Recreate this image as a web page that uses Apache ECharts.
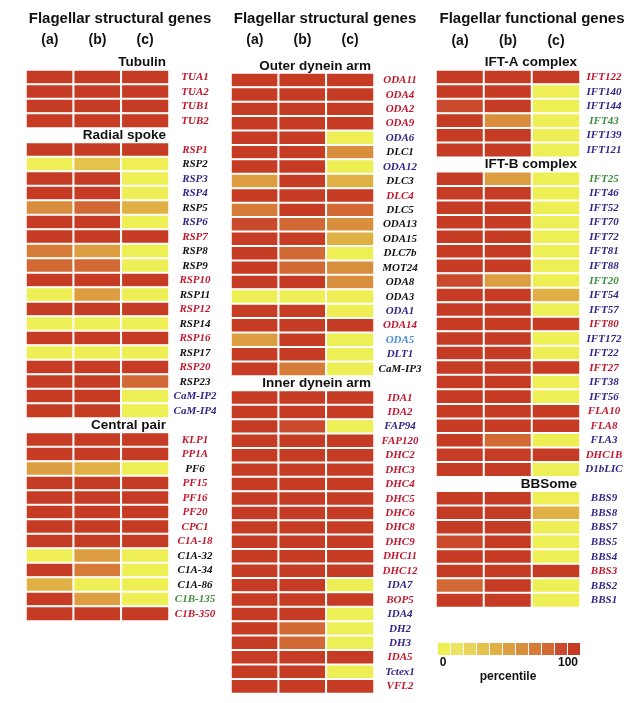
<!DOCTYPE html>
<html><head><meta charset="utf-8">
<script src="https://cdn.jsdelivr.net/npm/echarts@6/dist/echarts.min.js"></script>
<style>html,body{margin:0;padding:0;background:#fff}#c{width:643px;height:703px}</style>
</head><body><div id="c"></div>
<script>
// ---------- data ----------
const columns = ['(a)', '(b)', '(c)'];
const panelTitles = ['Flagellar structural genes', 'Flagellar structural genes', 'Flagellar functional genes'];
const pieceLevels = [0, 10, 20, 30, 40, 50, 60, 70, 80, 90, 100];
const pieceColors = ['#eeee55', '#ece460', '#e8d458', '#e4c24c', '#e0b044', '#dc9e40', '#d88e3c', '#d67c38', '#d26834', '#ca4a2e', '#c53b24'];

// Left panel
const tubulinGenes = ['TUA1', 'TUA2', 'TUB1', 'TUB2'];
const tubulinA = [100, 100, 100, 100];
const tubulinB = [100, 100, 100, 100];
const tubulinC = [100, 100, 100, 100];
const tubulinColors = ['r', 'r', 'r', 'r'];

const spokeGenes = ['RSP1', 'RSP2', 'RSP3', 'RSP4', 'RSP5', 'RSP6', 'RSP7', 'RSP8', 'RSP9', 'RSP10', 'RSP11', 'RSP12', 'RSP14', 'RSP16', 'RSP17', 'RSP20', 'RSP23', 'CaM-IP2', 'CaM-IP4'];
const spokeA = [100, 0, 100, 100, 60, 100, 100, 70, 80, 100, 0, 100, 0, 100, 0, 100, 100, 100, 100];
const spokeB = [100, 30, 100, 100, 80, 100, 100, 50, 80, 100, 50, 100, 0, 100, 0, 100, 100, 100, 100];
const spokeC = [100, 0, 0, 0, 40, 0, 100, 0, 0, 100, 0, 100, 0, 100, 0, 100, 80, 0, 0];
const spokeColors = ['r', 'k', 'p', 'p', 'k', 'p', 'r', 'k', 'k', 'r', 'k', 'r', 'k', 'r', 'k', 'r', 'k', 'p', 'p'];

const centralGenes = ['KLP1', 'PP1A', 'PF6', 'PF15', 'PF16', 'PF20', 'CPC1', 'C1A-18', 'C1A-32', 'C1A-34', 'C1A-86', 'C1B-135', 'C1B-350'];
const centralA = [100, 100, 50, 100, 100, 100, 100, 100, 0, 100, 40, 100, 100];
const centralB = [100, 100, 40, 100, 100, 100, 100, 100, 50, 70, 0, 50, 100];
const centralC = [100, 100, 0, 100, 100, 100, 100, 100, 0, 0, 0, 0, 100];
const centralColors = ['r', 'r', 'k', 'r', 'r', 'r', 'r', 'r', 'k', 'k', 'k', 'g', 'r'];

// Middle panel
const outerGenes = ['ODA11', 'ODA4', 'ODA2', 'ODA9', 'ODA6', 'DLC1', 'ODA12', 'DLC3', 'DLC4', 'DLC5', 'ODA13', 'ODA15', 'DLC7b', 'MOT24', 'ODA8', 'ODA3', 'ODA1', 'ODA14', 'ODA5', 'DLT1', 'CaM-IP3'];
const outerA = [100, 100, 100, 100, 100, 100, 100, 50, 100, 70, 90, 100, 100, 100, 100, 0, 100, 100, 50, 100, 100];
const outerB = [100, 100, 100, 100, 100, 100, 100, 100, 100, 100, 80, 100, 80, 80, 100, 0, 100, 100, 100, 100, 70];
const outerC = [100, 100, 100, 100, 0, 60, 0, 40, 100, 80, 60, 40, 0, 60, 60, 0, 0, 100, 0, 0, 0];
const outerColors = ['r', 'r', 'r', 'r', 'p', 'k', 'p', 'k', 'r', 'k', 'k', 'k', 'k', 'k', 'k', 'k', 'p', 'r', 'b', 'p', 'k'];

const innerGenes = ['IDA1', 'IDA2', 'FAP94', 'FAP120', 'DHC2', 'DHC3', 'DHC4', 'DHC5', 'DHC6', 'DHC8', 'DHC9', 'DHC11', 'DHC12', 'IDA7', 'BOP5', 'IDA4', 'DH2', 'DH3', 'IDA5', 'Tctex1', 'VFL2'];
const innerA = [100, 100, 100, 100, 100, 100, 100, 100, 100, 100, 100, 100, 100, 100, 100, 100, 100, 100, 100, 100, 100];
const innerB = [100, 100, 90, 100, 100, 100, 100, 100, 100, 100, 100, 100, 100, 100, 100, 100, 80, 80, 100, 100, 100];
const innerC = [100, 100, 0, 100, 100, 100, 100, 100, 100, 100, 100, 100, 100, 0, 100, 0, 0, 0, 100, 0, 100];
const innerColors = ['r', 'r', 'p', 'r', 'r', 'r', 'r', 'r', 'r', 'r', 'r', 'r', 'r', 'p', 'r', 'p', 'p', 'p', 'r', 'p', 'r'];

// Right panel
const iftAGenes = ['IFT122', 'IFT140', 'IFT144', 'IFT43', 'IFT139', 'IFT121'];
const iftAA = [100, 100, 90, 100, 100, 100];
const iftAB = [100, 100, 100, 60, 100, 100];
const iftAC = [100, 0, 0, 0, 0, 0];
const iftAColors = ['r', 'p', 'p', 'g', 'p', 'p'];

const iftBGenes = ['IFT25', 'IFT46', 'IFT52', 'IFT70', 'IFT72', 'IFT81', 'IFT88', 'IFT20', 'IFT54', 'IFT57', 'IFT80', 'IFT172', 'IFT22', 'IFT27', 'IFT38', 'IFT56', 'FLA10', 'FLA8', 'FLA3', 'DHC1B', 'D1bLIC'];
const iftBA = [100, 100, 100, 100, 100, 100, 100, 90, 100, 100, 100, 100, 100, 100, 100, 100, 100, 100, 100, 100, 100];
const iftBB = [50, 100, 100, 100, 100, 100, 100, 50, 100, 100, 100, 100, 100, 100, 100, 100, 100, 100, 80, 100, 100];
const iftBC = [0, 0, 0, 0, 0, 0, 0, 0, 40, 0, 100, 0, 0, 100, 0, 0, 100, 100, 0, 100, 0];
const iftBColors = ['g', 'p', 'p', 'p', 'p', 'p', 'p', 'g', 'p', 'p', 'r', 'p', 'p', 'r', 'p', 'p', 'r', 'r', 'p', 'r', 'p'];

const bbsGenes = ['BBS9', 'BBS8', 'BBS7', 'BBS5', 'BBS4', 'BBS3', 'BBS2', 'BBS1'];
const bbsA = [100, 100, 100, 90, 100, 100, 80, 100];
const bbsB = [100, 100, 100, 100, 100, 100, 100, 100];
const bbsC = [0, 40, 0, 0, 0, 100, 0, 0];
const bbsColors = ['p', 'p', 'p', 'p', 'p', 'r', 'p', 'p'];

// ---------- build ----------
const labelColor = { r: '#c2182e', k: '#111111', p: '#35258a', g: '#3f8f3f', b: '#4a8fd6' };

const panels = [
  { sections: [
      ['Tubulin', tubulinGenes, tubulinA, tubulinB, tubulinC, tubulinColors],
      ['Radial spoke', spokeGenes, spokeA, spokeB, spokeC, spokeColors],
      ['Central pair', centralGenes, centralA, centralB, centralC, centralColors]],
    grid: { left: 26, top: 55.5, width: 143, height: 565.5 }, xMargin: 8, lblMargin: 26, titleX: 120 },
  { sections: [
      ['Outer dynein arm', outerGenes, outerA, outerB, outerC, outerColors],
      ['Inner dynein arm', innerGenes, innerA, innerB, innerC, innerColors]],
    grid: { left: 231, top: 58.6, width: 143, height: 635 }, xMargin: 11, lblMargin: 26, titleX: 325 },
  { sections: [
      ['IFT-A complex', iftAGenes, iftAA, iftAB, iftAC, iftAColors],
      ['IFT-B complex', iftBGenes, iftBA, iftBB, iftBC, iftBColors],
      ['BBSome', bbsGenes, bbsA, bbsB, bbsC, bbsColors]],
    grid: { left: 436, top: 55.5, width: 144, height: 552 }, xMargin: 7, lblMargin: 24, titleX: 532 }
];

const rich = {};
Object.keys(labelColor).forEach(k => {
  rich[k] = { color: labelColor[k], fontFamily: 'Liberation Serif', fontStyle: 'italic', fontWeight: 'bold', fontSize: 11 };
});

const grids = [], xAxes = [], yAxes = [], series = [], graphics = [];
panels.forEach((pn, p) => {
  const cats = [];
  const colorOf = {};
  const data = [];
  pn.sections.forEach(([title, genes, A, B, C, cols]) => {
    cats.push('H:' + title);
    genes.forEach((g, i) => {
      cats.push(g);
      colorOf[g] = cols[i];
      data.push([0, g, A[i]], [1, g, B[i]], [2, g, C[i]]);
    });
  });
  grids.push(Object.assign({ containLabel: false }, pn.grid));
  xAxes.push({
    type: 'category', gridIndex: p, data: columns, position: 'top',
    axisLine: { show: false }, axisTick: { show: false }, splitLine: { show: false },
    axisLabel: { margin: pn.xMargin, fontFamily: 'Liberation Sans', fontWeight: 'bold', fontSize: 14, color: '#111' }
  });
  const base = {
    type: 'category', gridIndex: p, data: cats, inverse: true, position: 'right',
    min: 0, max: cats.length - 1,
    axisLine: { show: false }, axisTick: { show: false }, splitLine: { show: false }
  };
  yAxes.push(Object.assign({}, base, {
    axisLabel: {
      interval: 0, margin: pn.lblMargin, align: 'center', rich: rich,
      formatter: v => v.startsWith('H:') ? '' : '{' + colorOf[v] + '|' + v + '}'
    }
  }));
  yAxes.push(Object.assign({}, base, {
    z: 5,
    axisLabel: {
      interval: 0, inside: true, margin: 3, align: 'right',
      fontFamily: 'Liberation Sans', fontWeight: 'bold', fontSize: 13.5, color: '#111',
      formatter: v => v.startsWith('H:') ? v.slice(2) : ''
    }
  }));
  series.push({
    type: 'heatmap', xAxisIndex: p, yAxisIndex: 2 * p, data: data,
    itemStyle: { borderColor: '#ffffff', borderWidth: 2 },
    emphasis: { disabled: true }, silent: true
  });
  graphics.push({
    type: 'text', x: pn.titleX, y: 19,
    style: { text: panelTitles[p], x: 0, y: 0, align: 'center', verticalAlign: 'middle',
      fontFamily: 'Liberation Sans', fontWeight: 'bold', fontSize: 15, fill: '#111' }
  });
});

graphics.push(
  { type: 'text', x: 443, y: 663, style: { text: '0', align: 'center', verticalAlign: 'middle', fontFamily: 'Liberation Sans', fontWeight: 'bold', fontSize: 12, fill: '#111' } },
  { type: 'text', x: 568, y: 663, style: { text: '100', align: 'center', verticalAlign: 'middle', fontFamily: 'Liberation Sans', fontWeight: 'bold', fontSize: 12, fill: '#111' } },
  { type: 'text', x: 508, y: 677, style: { text: 'percentile', align: 'center', verticalAlign: 'middle', fontFamily: 'Liberation Sans', fontWeight: 'bold', fontSize: 12, fill: '#111' } }
);

const pieces = pieceLevels.map((lv, i) => ({ gte: lv - 5, lt: lv + 5, color: pieceColors[i] }));

const chart = echarts.init(document.getElementById('c'), null, { renderer: 'canvas' });
chart.setOption({
  animation: false,
  backgroundColor: '#ffffff',
  grid: grids,
  xAxis: xAxes,
  yAxis: yAxes,
  visualMap: {
    type: 'piecewise', orient: 'horizontal', left: 438, top: 643,
    pieces: pieces, itemWidth: 12, itemHeight: 12, itemGap: 1, itemSymbol: 'rect',
    showLabel: false, padding: 0, seriesIndex: [0, 1, 2], hoverLink: false, selectedMode: false
  },
  series: series,
  graphic: graphics
});
</script></body></html>
